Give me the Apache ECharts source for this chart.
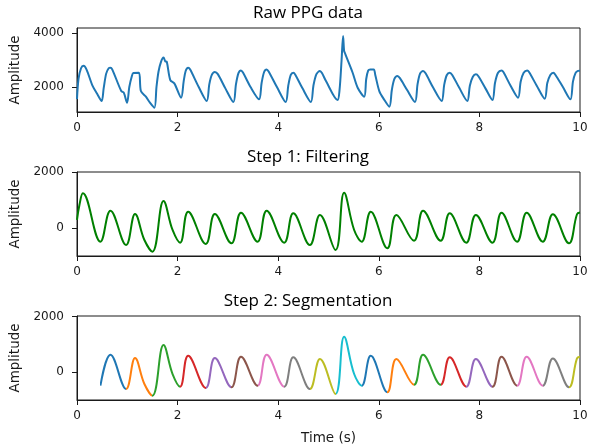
<!DOCTYPE html>
<html>
<head>
<meta charset="utf-8">
<script src="https://cdn.jsdelivr.net/npm/echarts@6/dist/echarts.min.js"></script>
<style>
html, body { margin: 0; padding: 0; background: #fff; }
#chart { width: 589px; height: 447px; }
</style>
</head>
<body>
<div id="chart"></div>
<script>
// raw PPG signal (s, amplitude)
const rawTime = [
    0.00, 0.03, 0.08, 0.13, 0.19, 0.31, 0.40, 0.49,
    0.53, 0.58, 0.63, 0.665, 0.70, 0.88, 0.93, 0.995,
    1.04, 1.09, 1.12, 1.23, 1.27, 1.37, 1.45, 1.54,
    1.58, 1.62, 1.67, 1.72, 1.755, 1.785, 1.855, 1.935, 2.07,
    2.12, 2.16, 2.21, 2.25, 2.42, 2.58,
    2.63, 2.68, 2.74, 2.80, 2.95, 3.11,
    3.16, 3.21, 3.26, 3.30, 3.45, 3.62,
    3.67, 3.72, 3.77, 3.81, 3.98, 4.15,
    4.20, 4.25, 4.30, 4.34, 4.48, 4.65,
    4.70, 4.76, 4.83, 4.87, 4.95, 5.18,
    5.22, 5.26, 5.29, 5.31, 5.33, 5.35, 5.48, 5.58, 5.71,
    5.75, 5.79, 5.83, 5.90, 5.93, 6.01, 6.10, 6.21,
    6.26, 6.31, 6.37, 6.42, 6.56, 6.72,
    6.77, 6.82, 6.88, 6.93, 7.08, 7.25,
    7.30, 7.35, 7.41, 7.46, 7.60, 7.76,
    7.81, 7.87, 7.93, 7.98, 8.12, 8.26,
    8.31, 8.37, 8.44, 8.48, 8.62, 8.77,
    8.82, 8.88, 8.95, 8.99, 9.14, 9.30,
    9.35, 9.41, 9.47, 9.51, 9.66, 9.81,
    9.86, 9.91, 9.96, 10.0
]
const rawAmp = [
    1550, 2300, 2700, 2790, 2650, 2040, 1750, 1480,
    1950, 2500, 2700, 2720, 2660, 1850, 1790, 1416,
    2000, 2400, 2520, 2530, 1850, 1640, 1420, 1230,
    2000, 2570, 2940, 3100, 2960, 2940, 2260, 2137, 1602,
    2200, 2600, 2720, 2650, 2000, 1479,
    2100, 2450, 2559, 2480, 1950, 1442,
    2100, 2520, 2621, 2540, 2000, 1541,
    2150, 2560, 2658, 2580, 1980, 1442,
    2050, 2450, 2534, 2460, 1960, 1442,
    2050, 2480, 2596, 2520, 2223, 1516,
    1900, 3000, 3899, 3350, 3250, 3150, 2533, 1975, 1640,
    2300, 2620, 2658, 2658, 2450, 1850, 1550, 1267,
    1900, 2300, 2410, 2330, 1900, 1442,
    2100, 2500, 2596, 2510, 1980, 1479,
    2080, 2440, 2534, 2450, 1970, 1479,
    2050, 2380, 2472, 2400, 1950, 1516,
    2150, 2530, 2621, 2550, 2050, 1602,
    2200, 2530, 2621, 2550, 2050, 1565,
    2150, 2450, 2534, 2460, 2000, 1541,
    2200, 2520, 2600, 2610
]

// filtered signal: peaks, troughs and a few shoulders
const filtTime = [
    0.00, 0.05, 0.116, 0.466, 0.665, 0.976, 1.154, 1.34, 1.50, 1.72,
    1.90, 2.05, 2.21, 2.56, 2.74, 3.07, 3.26, 3.59, 3.77, 4.12,
    4.30, 4.63, 4.83, 5.14, 5.31, 5.51, 5.66, 5.84, 6.17, 6.35,
    6.70, 6.88, 7.23, 7.41, 7.74, 7.93, 8.26, 8.44, 8.75, 8.94,
    9.26, 9.46, 9.78, 9.94, 10.0
]
const filtAmp = [
    296, 850, 1250, -478, 628, -596, 510, -418, -835, 975,
    -61, -514, 593, -560, 510, -537, 557, -478, 628, -514,
    535, -596, 475, -775, 1271, -61, -478, 593, -714, 475,
    -443, 628, -443, 535, -514, 475, -514, 557, -478, 557,
    -478, 499, -537, 500, 560
]

// beat boundaries (troughs) used for segmentation
const segBounds = [0.466, 0.976, 1.50, 2.05, 2.56, 3.07, 3.59, 4.12, 4.63, 5.14,
    5.66, 6.17, 6.70, 7.23, 7.74, 8.26, 8.75, 9.26, 9.78, 10.0]

const titles = ['Raw PPG data', 'Step 1: Filtering', 'Step 2: Segmentation']
const rawTicks = [2000, 4000]
const ampTicks = [0, 2000]
const tab10 = ['#1f77b4', '#ff7f0e', '#2ca02c', '#d62728', '#9467bd',
    '#8c564b', '#e377c2', '#7f7f7f', '#bcbd22', '#17becf']

const tops = [28, 172, 316]
const titleY = [13, 157.5, 301]
const ink = '#1a1a1a'

const pairs = (ts, vs) => ts.map((t, i) => [t, vs[i]])

const makeX = (i) => ({
    type: 'value',
    gridIndex: i,
    min: 0,
    max: 10,
    interval: 2,
    axisLine: {show: true, onZero: false, lineStyle: {color: ink, width: 1}},
    axisTick: {show: true, length: 5, lineStyle: {color: ink}},
    axisLabel: {fontFamily: 'DejaVu Sans', fontSize: 12, color: ink, margin: 10},
    splitLine: {show: false},
    name: i === 2 ? 'Time (s)' : '',
    nameLocation: 'middle',
    nameGap: 31,
    nameTextStyle: {fontFamily: 'DejaVu Sans', fontSize: 13.5, color: ink}
})

const makeY = (i, min, max, ticks) => ({
    type: 'value',
    gridIndex: i,
    min: min,
    max: max,
    axisLine: {show: true, onZero: false, lineStyle: {color: ink, width: 1}},
    axisTick: {show: true, length: 5, lineStyle: {color: ink}, customValues: ticks},
    axisLabel: {
        fontFamily: 'DejaVu Sans',
        fontSize: 12,
        color: ink,
        margin: 13,
        customValues: ticks,
        formatter: v => String(v)
    },
    splitLine: {show: false},
    name: 'Amplitude',
    nameLocation: 'middle',
    nameGap: 49,
    nameTextStyle: {fontFamily: 'DejaVu Sans', fontSize: 13.5, color: ink}
})

const filtPairs = pairs(filtTime, filtAmp)

// one colour per beat, switched along x
const segPieces = []
for (let k = 0; k < segBounds.length - 1; k++) {
    const piece = {gte: segBounds[k], color: tab10[k % 10]}
    if (k === segBounds.length - 2) {
        piece.lte = segBounds[k + 1]
    } else {
        piece.lt = segBounds[k + 1]
    }
    segPieces.push(piece)
}

const series = [
    {
        type: 'line',
        xAxisIndex: 0,
        yAxisIndex: 0,
        data: pairs(rawTime, rawAmp),
        showSymbol: false,
        smooth: 0.3,
        lineStyle: {color: '#1f77b4', width: 2},
        z: 3
    },
    {
        type: 'line',
        xAxisIndex: 1,
        yAxisIndex: 1,
        data: filtPairs,
        showSymbol: false,
        smooth: 0.4,
        lineStyle: {color: '#008000', width: 2},
        z: 3
    },
    {
        type: 'line',
        xAxisIndex: 2,
        yAxisIndex: 2,
        data: filtPairs.filter(p => p[0] >= segBounds[0] - 1e-9),
        showSymbol: false,
        smooth: 0.4,
        lineStyle: {width: 2},
        z: 3
    }
]

const option = {
    animation: false,
    backgroundColor: '#fff',
    grid: tops.map(t => ({
        left: 77,
        right: 9,
        top: t,
        height: 84,
        show: true,
        borderColor: ink,
        borderWidth: 1,
        backgroundColor: 'transparent',
        outerBoundsMode: 'none'
    })),
    xAxis: [makeX(0), makeX(1), makeX(2)],
    yAxis: [
        makeY(0, 1070, 4200, rawTicks),
        makeY(1, -990, 2010, ampTicks),
        makeY(2, -990, 2015, ampTicks)
    ],
    visualMap: {
        type: 'piecewise',
        show: false,
        seriesIndex: 2,
        dimension: 0,
        pieces: segPieces
    },
    graphic: titles.map((txt, i) => ({
        type: 'text',
        x: 308,
        y: titleY[i],
        style: {
            text: txt,
            fontFamily: 'Open Sans',
            fontSize: 17,
            fill: '#000',
            textAlign: 'center',
            align: 'center',
            textVerticalAlign: 'middle',
            verticalAlign: 'middle'
        }
    })),
    series: series
}

const chart = echarts.init(document.getElementById('chart'))
chart.setOption(option)
</script>
</body>
</html>
